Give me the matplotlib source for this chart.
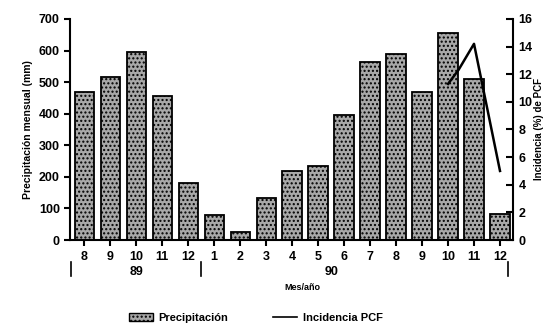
import matplotlib
matplotlib.use("Agg")
import matplotlib.pyplot as plt
import matplotlib.transforms as mtransforms
from matplotlib.patches import Patch
from matplotlib.lines import Line2D

plt.rcParams['font.family'] = ['Liberation Sans', 'DejaVu Sans']
plt.rcParams['font.weight'] = 'bold'
plt.rcParams['hatch.color'] = '#555555'

# data
months = ['8', '9', '10', '11', '12', '1', '2', '3', '4', '5', '6', '7', '8', '9', '10', '11', '12']
precip = [470, 515, 595, 455, 180, 78, 25, 133, 218, 235, 395, 565, 590, 470, 655, 510, 82]
inc_idx = [14, 14.4, 15, 16]
incidence = [11.3, 12.3, 14.2, 5.0]
years = ['89', '90']
year_pos = [2, 9.5]
year_breaks = [-0.5, 4.5, 16.3]

fig = plt.figure(figsize=(5.44, 3.27), dpi=100)
ax = fig.add_axes([0.129, 0.266, 0.814, 0.676])
ax2 = ax.twinx()

x = list(range(len(months)))
ax.bar(x, precip, width=0.74, color='#a8a8a8', edgecolor='black', linewidth=1.3,
       hatch='....', zorder=2)
ax2.plot(inc_idx, incidence, color='black', lw=1.8)

ax.set_xlim(-0.54, 16.5)
ax.set_ylim(0, 700)
ax2.set_ylim(0, 16)
ax.set_yticks(range(0, 701, 100))
ax2.set_yticks(range(0, 17, 2))
ax.set_xticks(x)
ax.set_xticklabels(months, fontsize=9, fontweight='bold')
ax.tick_params(axis='y', labelsize=9, width=1.5, length=4)
ax.tick_params(axis='x', width=1.5, length=4, pad=4)
ax2.tick_params(axis='y', labelsize=9, width=1.5, length=5, direction='in', pad=4)
for a in (ax, ax2):
    a.spines['top'].set_visible(False)
    for s in ('left', 'right', 'bottom'):
        a.spines[s].set_linewidth(1.5)
ax.spines['right'].set_visible(False)
ax2.spines['left'].set_visible(False)
ax2.spines['bottom'].set_visible(False)

ax.set_ylabel('Precipitación mensual (mm)', fontsize=7.5, fontweight='bold', labelpad=4)
ax2.set_ylabel('Incidencia (%) de PCF', fontsize=7, fontweight='bold', labelpad=1)

trans = mtransforms.blended_transform_factory(ax.transData, fig.transFigure)
for y, p in zip(years, year_pos):
    fig.text(p, 1 - 272 / 327, y, transform=trans, ha='center', va='center',
             fontsize=9, fontweight='bold')
for b in year_breaks:
    ax.add_line(Line2D([b, b], [1 - 262 / 327, 1 - 276 / 327], transform=trans,
                       color='black', lw=1.2, clip_on=False))

fig.text(0.555, 1 - 287 / 327, 'Mes/año', ha='center', va='center', fontsize=6.5, fontweight='bold')

handles = [Patch(facecolor='#a8a8a8', edgecolor='black', hatch='....', label='Precipitación'),
           Line2D([0], [0], color='black', lw=1.2, label='Incidencia PCF')]
fig.legend(handles=handles, loc='center', bbox_to_anchor=(0.47, 1 - 318 / 327), ncol=2,
           frameon=False, fontsize=8, handlelength=2.2, columnspacing=4, handletextpad=0.5)

fig.savefig('out.png', dpi=100)
